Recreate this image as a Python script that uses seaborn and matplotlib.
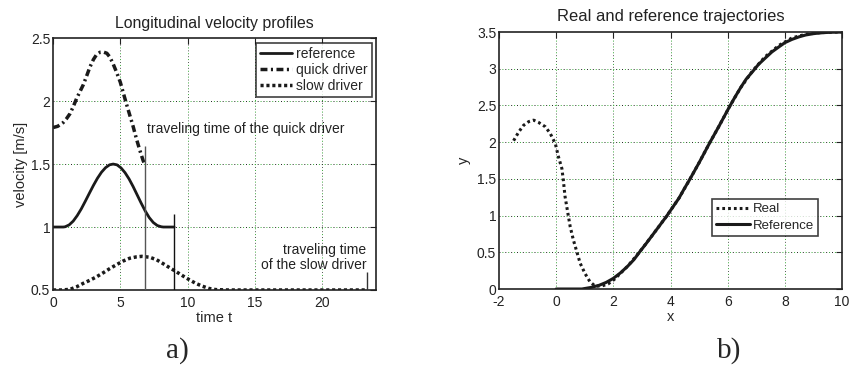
import numpy as np
import pandas as pd
import matplotlib
matplotlib.use("Agg")
import matplotlib.pyplot as plt
import seaborn as sns

# ---------------- data: panel a) ----------------
ref_t = [0, 0.5, 0.76, 0.9, 1.2, 1.5, 1.8, 2.1, 2.4, 2.7, 3.0, 3.3, 3.6, 3.9, 4.2, 4.47,
         4.75, 5.05, 5.35, 5.65, 5.95, 6.25, 6.55, 6.85, 7.15, 7.45, 7.75, 8.05, 8.2, 8.6, 9.0]
ref_v = [1.0, 1.0, 1.0, 1.002, 1.017, 1.047, 1.091, 1.144, 1.205, 1.268, 1.330, 1.387, 1.435, 1.471,
         1.494, 1.5, 1.494, 1.470, 1.432, 1.382, 1.322, 1.256, 1.190, 1.128, 1.075, 1.036, 1.012,
         1.002, 1.0, 1.0, 1.0]

quick_t = [0, 0.35, 0.76, 1.0, 1.26, 1.5, 1.75, 2.0, 2.25, 2.5, 2.74, 3.0, 3.24, 3.5, 3.73, 4.0,
           4.22, 4.45, 4.72, 5.0, 5.21, 5.45, 5.7, 5.95, 6.2, 6.45, 6.69, 6.8]
quick_v = [1.79, 1.80, 1.83, 1.86, 1.90, 1.955, 2.02, 2.075, 2.13, 2.20, 2.27, 2.33, 2.37, 2.388,
           2.39, 2.38, 2.35, 2.30, 2.23, 2.15, 2.07, 1.98, 1.89, 1.80, 1.70, 1.61, 1.53, 1.50]

slow_t = [0, 0.6, 1.26, 1.75, 2.25, 2.75, 3.24, 3.75, 4.22, 4.7, 5.21, 5.7, 6.2, 6.6, 7.19, 7.7,
          8.17, 8.65, 9.16, 9.65, 10.15, 10.6, 11.1, 11.6, 12.1, 13.0, 15.0, 20.0, 23.3]
slow_v = [0.5, 0.5, 0.505, 0.525, 0.553, 0.578, 0.605, 0.638, 0.67, 0.70, 0.73, 0.752, 0.763,
          0.767, 0.76, 0.74, 0.71, 0.678, 0.645, 0.612, 0.58, 0.553, 0.53, 0.512, 0.503, 0.5,
          0.5, 0.5, 0.5]

travel_t = [6.8, 9.0, 23.3]          # traveling-time markers
travel_top = [1.64, 1.10, 0.64]
travel_col = ["#555555", "#111111", "#333333"]

# ---------------- data: panel b) ----------------
real_x = [-1.49, -1.31, -1.14, -0.96, -0.79, -0.62, -0.38, -0.21, -0.03, 0.08, 0.2, 0.25, 0.31, 0.41,
          0.49, 0.6, 0.72, 0.84, 1.01, 1.18, 1.36, 1.59, 1.82, 2.03, 2.5, 2.93, 3.4, 3.86, 4.3, 4.67,
          5.0, 5.37, 5.7, 6.06, 6.45, 6.87, 7.3, 7.8, 8.25, 8.73, 9.2, 9.66, 10.0]
real_y = [2.02, 2.14, 2.23, 2.28, 2.30, 2.27, 2.21, 2.12, 1.98, 1.80, 1.64, 1.48, 1.26, 1.03,
          0.85, 0.67, 0.51, 0.35, 0.21, 0.10, 0.04, 0.04, 0.07, 0.13, 0.31, 0.51, 0.75, 0.99, 1.24, 1.49,
          1.72, 1.99, 2.22, 2.48, 2.74, 2.97, 3.16, 3.32, 3.42, 3.47, 3.49, 3.50, 3.5]

refx = [0, 0.5, 0.9, 1.2, 1.5, 1.75, 2.0, 2.25, 2.5, 2.72, 2.93, 3.15, 3.4, 3.63, 3.86, 4.08, 4.3,
        4.48, 4.67, 5.0, 5.37, 5.7, 6.06, 6.25, 6.45, 6.65, 6.87, 7.08, 7.3, 7.55, 7.8, 8.0, 8.25,
        8.5, 8.73, 9.0, 9.2, 9.45, 9.66, 10.0]
refy = [0, 0, 0, 0.02, 0.05, 0.09, 0.145, 0.22, 0.31, 0.40, 0.51, 0.62, 0.75, 0.87, 0.99, 1.115,
        1.24, 1.365, 1.49, 1.72, 1.99, 2.22, 2.48, 2.61, 2.74, 2.86, 2.96, 3.06, 3.14, 3.23, 3.30,
        3.355, 3.40, 3.435, 3.46, 3.478, 3.487, 3.494, 3.497, 3.5]

# ---------------- style ----------------
sns.set_style("white")
plt.rcParams["font.family"] = ["Liberation Sans", "DejaVu Sans"]
plt.rcParams["font.size"] = 10
plt.rcParams["xtick.direction"] = "in"
plt.rcParams["ytick.direction"] = "in"
plt.rcParams["axes.unicode_minus"] = False

K = "#1a1a1a"
fig = plt.figure(figsize=(8.51, 3.65), dpi=100)
axA = fig.add_axes([0.0623, 0.2055, 0.3795, 0.690])
axB = fig.add_axes([0.5864, 0.2082, 0.403, 0.704])


def matlab_grid(ax, xt, yt, xl, yl):
    for v in xt:
        ax.plot([v, v], yl, color="#555555", lw=0.7, ls=(0, (1, 5)), zorder=0.5)
        ax.plot([v, v], yl, color="#33aa33", lw=0.7, ls=(3, (1, 5)), zorder=0.5)
    for v in yt:
        ax.plot(xl, [v, v], color="#222222", lw=0.7, ls=(0, (1, 5)), zorder=0.5)
        ax.plot(xl, [v, v], color="#33aa33", lw=0.7, ls=(3, (1, 5)), zorder=0.5)


def finish(ax):
    for s in ax.spines.values():
        s.set_color("#222222")
        s.set_linewidth(1.2)
    ax.tick_params(which="both", top=True, right=True, length=4, width=0.8,
                   labelsize=10, colors="#222222")
    ax.tick_params(axis="x", pad=4)
    ax.tick_params(axis="y", pad=2)


# ---------------- panel a ----------------
xlA, ylA = (0, 24), (0.5, 2.5)
matlab_grid(axA, [5, 10, 15, 20], [1, 1.5, 2], xlA, ylA)
sns.lineplot(x=ref_t, y=ref_v, ax=axA, color=K, lw=2.0, estimator=None, sort=False, label="reference")
sns.lineplot(x=quick_t, y=quick_v, ax=axA, color=K, lw=2.5, estimator=None, sort=False,
             label="quick driver")
axA.lines[-1].set_linestyle((0, (2, 1, 0.6, 1)))
sns.lineplot(x=slow_t, y=slow_v, ax=axA, color=K, lw=2.5, estimator=None, sort=False,
             label="slow driver")
axA.lines[-1].set_linestyle((0, (0.9, 0.8)))
for t, top, c in zip(travel_t, travel_top, travel_col):
    axA.vlines(t, 0.5, top, color=c, lw=1.0, zorder=3)
axA.set_xlim(*xlA)
axA.set_ylim(*ylA)
axA.set_xticks([0, 5, 10, 15, 20])
axA.set_yticks([0.5, 1, 1.5, 2, 2.5])
axA.set_yticklabels(["0.5", "1", "1.5", "2", "2.5"])
axA.set_xlabel("time t", fontsize=10.5, labelpad=1)
axA.set_ylabel("velocity [m/s]", fontsize=10.5, labelpad=2)
axA.set_title("Longitudinal velocity profiles", fontsize=11.4, pad=7, color="#222222")
axA.text(7.0, 1.78, "traveling time of the quick driver", fontsize=10, va="center", ha="left",
         color="#222222")
axA.text(23.3, 0.76, "traveling time\nof the slow driver", fontsize=10, va="center", ha="right",
         multialignment="right", linespacing=1.1, color="#222222")
legA = axA.legend(loc="upper right", bbox_to_anchor=(0.988, 0.982), fontsize=10, frameon=True,
                  fancybox=False, handlelength=2.3, labelspacing=0.15, borderpad=0.3,
                  handletextpad=0.3, borderaxespad=0)
legA.get_frame().set_edgecolor("#111111")
legA.get_frame().set_linewidth(1.2)
finish(axA)

# ---------------- panel b ----------------
xlB, ylB = (-2, 10), (0, 3.5)
matlab_grid(axB, [0, 2, 4, 6, 8], [0.5, 1, 1.5, 2, 2.5, 3], xlB, ylB)
sns.lineplot(x=real_x, y=real_y, ax=axB, color=K, lw=2.2, estimator=None, sort=False, label="Real")
axB.lines[-1].set_linestyle((0, (0.9, 1.0)))
sns.lineplot(x=refx, y=refy, ax=axB, color=K, lw=2.2, estimator=None, sort=False, label="Reference")
axB.set_xlim(*xlB)
axB.set_ylim(*ylB)
axB.set_xticks([-2, 0, 2, 4, 6, 8, 10])
axB.set_yticks([0, 0.5, 1, 1.5, 2, 2.5, 3, 3.5])
axB.set_yticklabels(["0", "0.5", "1", "1.5", "2", "2.5", "3", "3.5"])
axB.set_xlabel("x", fontsize=10.5, labelpad=1)
axB.set_ylabel("y", fontsize=10.5, labelpad=4)
axB.set_title("Real and reference trajectories", fontsize=11.9, pad=8, color="#222222")
legB = axB.legend(loc="lower left", bbox_to_anchor=(0.62, 0.206), fontsize=9.5, frameon=True,
                  fancybox=False, handlelength=2.6, labelspacing=0.35, borderpad=0.3,
                  handletextpad=0.2, borderaxespad=0)
legB.get_frame().set_edgecolor("#111111")
legB.get_frame().set_linewidth(1.2)
finish(axB)

fig.text(0.208, 0.041, "a)", fontsize=21, family=["Liberation Serif", "DejaVu Serif"],
         ha="center", va="center")
fig.text(0.857, 0.041, "b)", fontsize=21, family=["Liberation Serif", "DejaVu Serif"],
         ha="center", va="center")

fig.savefig("out.png", dpi=100)
